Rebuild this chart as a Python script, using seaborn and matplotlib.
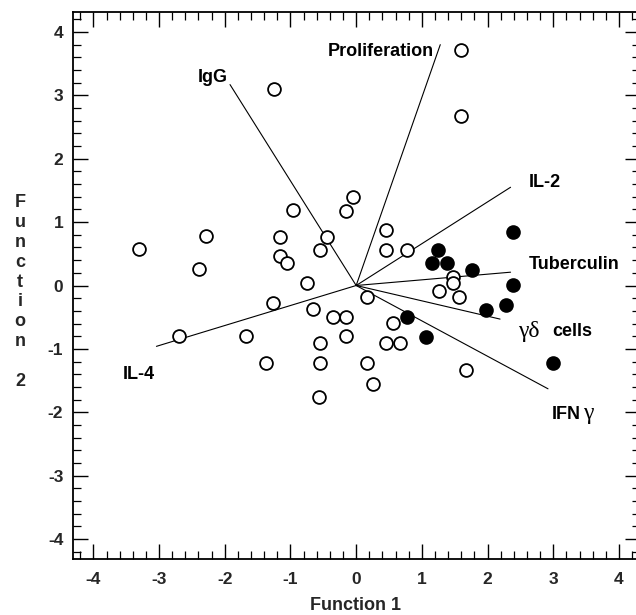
import matplotlib
matplotlib.use("Agg")
import matplotlib.pyplot as plt
import seaborn as sns
import numpy as np
import pandas as pd

# ---- data ----
open_x = [-3.30, -2.28, -2.39, -2.69, -1.68, -1.38, -1.25, -0.96, -1.16, -1.16,
          -1.06, -1.27, -0.05, -0.15, -0.45, -0.55, 0.46, 0.46, 0.77, -0.75,
          0.16, -0.65, -0.36, -0.15, -0.15, -0.55, 0.56, 0.46, 0.67, -0.55,
          0.16, 0.25, -0.56, 1.26, 1.48, 1.48, 1.57, 1.67, 1.59, 1.59]
open_y = [0.57, 0.78, 0.26, -0.79, -0.79, -1.22, 3.10, 1.19, 0.77, 0.47,
          0.35, -0.27, 1.40, 1.18, 0.76, 0.56, 0.88, 0.56, 0.56, 0.04,
          -0.18, -0.37, -0.49, -0.49, -0.80, -0.91, -0.59, -0.91, -0.91, -1.22,
          -1.22, -1.55, -1.76, -0.08, 0.13, 0.04, -0.18, -1.34, 3.71, 2.67]

filled_x = [0.77, 1.06, 1.25, 1.16, 1.38, 1.77, 2.39, 2.38, 2.28, 1.97, 2.99]
filled_y = [-0.50, -0.81, 0.56, 0.35, 0.35, 0.24, 0.85, 0.01, -0.30, -0.39, -1.23]

vec_names = ["IgG", "Proliferation", "IL-2", "Tuberculin", "γδ cells", "IFNγ", "IL-4"]
vec_x = [-1.92, 1.28, 2.35, 2.35, 2.19, 2.92, -3.04]
vec_y = [3.17, 3.80, 1.55, 0.21, -0.53, -1.63, -0.96]

ticks = [-4, -3, -2, -1, 0, 1, 2, 3, 4]

# ---- figure ----
sns.set_theme(style="white")
plt.rcParams['font.family'] = ['Liberation Sans', 'DejaVu Sans']

fig = plt.figure(figsize=(6.36, 6.15), dpi=100)
ax = fig.add_axes([73/636, 55.7/615, (640-73)/636, (559.3-11.7)/615])

# vectors
for vx, vy in zip(vec_x, vec_y):
    ax.plot([0, vx], [0, vy], color="black", lw=0.8, zorder=1)

df_open = pd.DataFrame({"x": open_x, "y": open_y})
df_fill = pd.DataFrame({"x": filled_x, "y": filled_y})
sns.scatterplot(data=df_open, x="x", y="y", ax=ax, s=85, color="white",
                edgecolor="black", linewidth=1.3, zorder=3)
sns.scatterplot(data=df_fill, x="x", y="y", ax=ax, s=85, color="black",
                edgecolor="black", linewidth=1.3, zorder=4)

ax.set_xlim(-4.31, 4.32)
ax.set_ylim(-4.32, 4.32)
ax.set_xticks(ticks)
ax.set_yticks(ticks)
ax.set_xticklabels([str(t) for t in ticks], fontweight="bold", fontsize=12.5)
ax.set_yticklabels([str(t) for t in ticks], fontweight="bold", fontsize=12.5)
ax.set_xticks(np.arange(-4.2, 4.3, 0.2), minor=True)
ax.set_yticks(np.arange(-4.2, 4.3, 0.2), minor=True)
ax.tick_params(which="both", direction="in", top=True, right=True,
               bottom=True, left=True, color="black")
ax.tick_params(which="major", length=11, width=1.0)
ax.tick_params(which="minor", length=5.5, width=0.9)
ax.tick_params(axis="x", which="major", pad=9)
ax.tick_params(axis="y", which="major", pad=7)
for sp in ax.spines.values():
    sp.set_color("black")
    sp.set_linewidth(1.3)
ax.set_xlabel("")
ax.set_ylabel("")

# vector labels
lab = dict(fontsize=13, fontweight="bold", color="black", va="center")
ax.text(-1.95, 3.28, "IgG", ha="right", **lab)
ax.text(1.18, 3.69, "Proliferation", ha="right", **lab)
ax.text(2.62, 1.63, "IL-2", ha="left", **lab)
ax.text(2.62, 0.33, "Tuberculin", ha="left", **lab)
ax.text(-3.55, -1.41, "IL-4", ha="left", **lab)
ax.text(2.47, -0.72, "γδ", ha="left", va="center", fontsize=17,
        family=["Liberation Serif", "DejaVu Serif"], color="black")
ax.text(2.99, -0.73, "cells", ha="left", **lab)
ax.text(2.97, -2.04, "IFN", ha="left", **lab)
ax.text(3.46, -2.02, "γ", ha="left", va="center", fontsize=17,
        family=["Liberation Serif", "DejaVu Serif"], color="black")

# axis labels
fig.text(355/636, 1 - 605/615, "Function 1", ha="center", va="center",
         fontsize=13, fontweight="bold")
fig.text(20/636, 1 - 292/615, "\n".join(list("Function") + ["", "2"]),
         ha="center", va="center", multialignment="center",
         fontsize=13, fontweight="bold", linespacing=1.22)

fig.savefig("out.png", dpi=100)
